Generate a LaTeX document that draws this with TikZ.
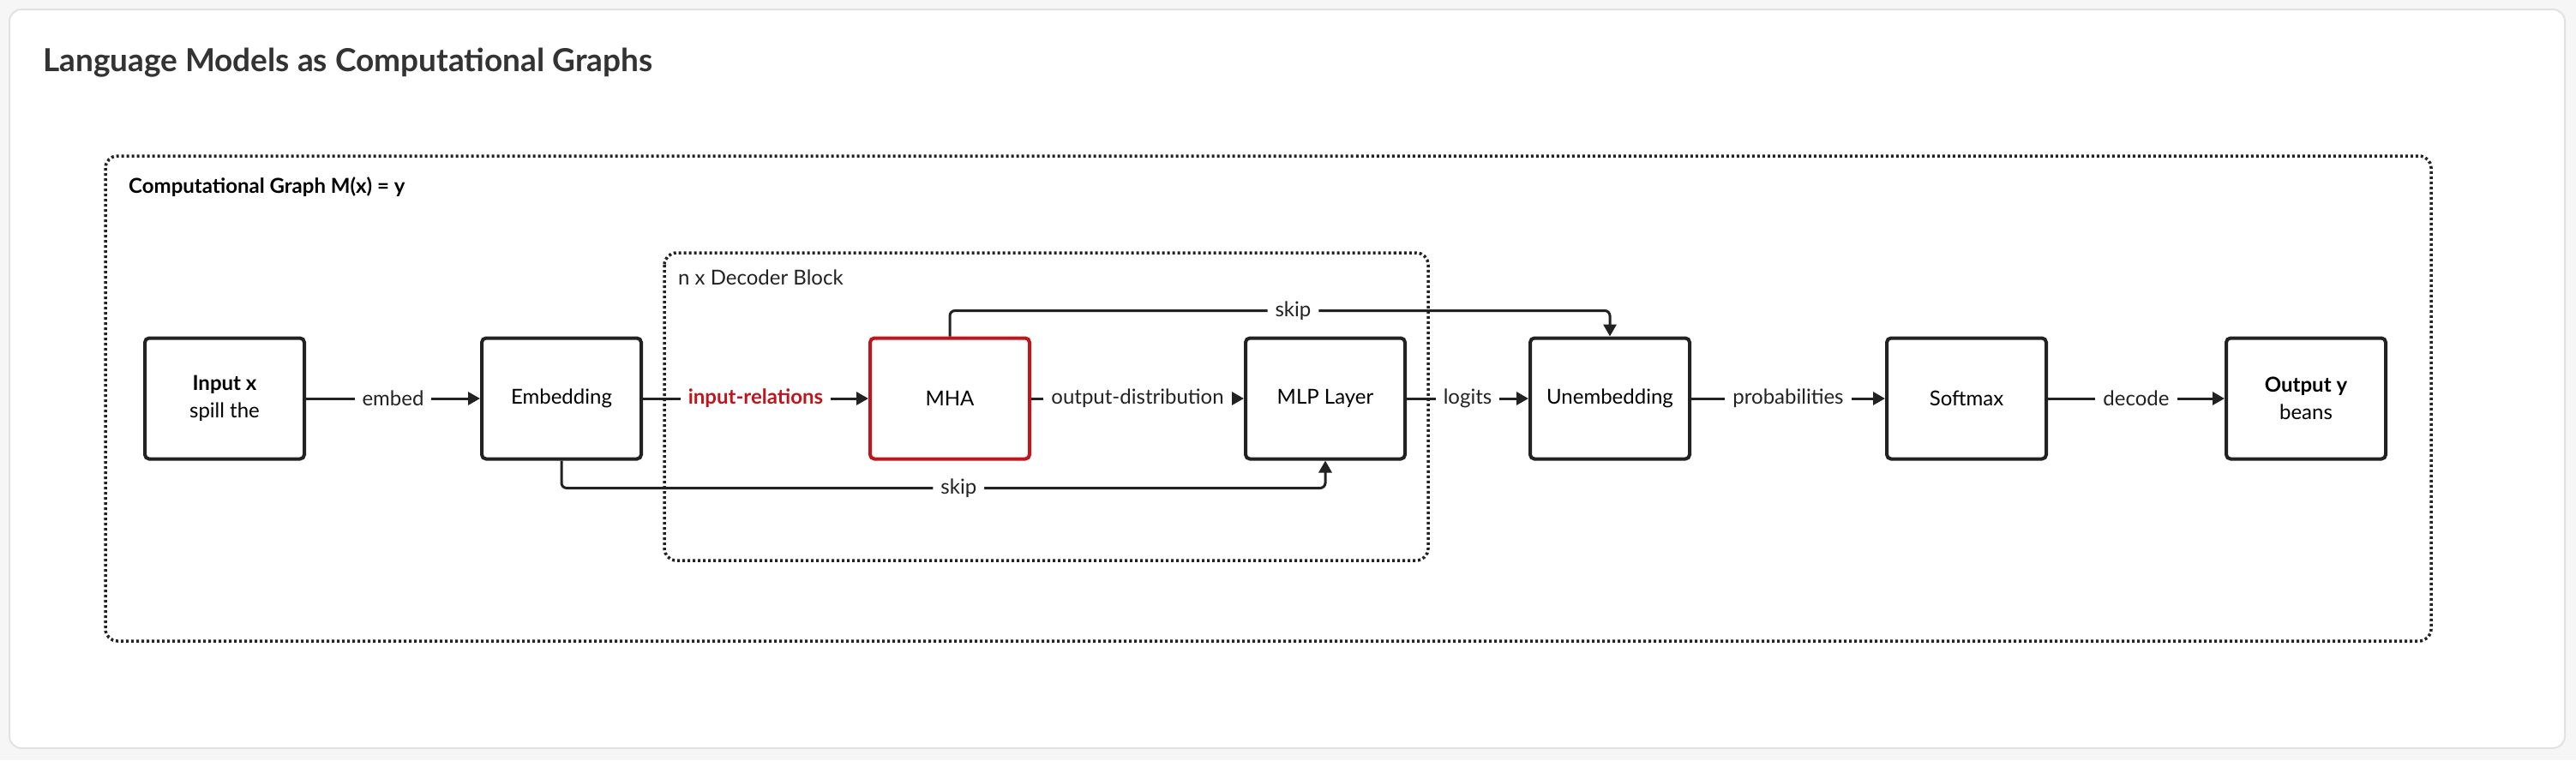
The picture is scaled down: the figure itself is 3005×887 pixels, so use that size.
\documentclass[tikz,border=0pt]{standalone}
\usepackage{fontspec}
\setmainfont{Lato}
\usetikzlibrary{arrows.meta}
\definecolor{ink}{HTML}{222222}
\definecolor{titlegray}{HTML}{333333}
\definecolor{hired}{HTML}{C0151B}
\definecolor{cardline}{HTML}{E2E2E2}
\definecolor{pagebg}{HTML}{F6F6F6}
\tikzset{
  blk/.style={draw=ink, line width=4pt, rounded corners=5pt, fill=white,
    minimum width=186pt, minimum height=141pt, inner sep=0pt, align=center,
    font=\fontsize{24}{32}\selectfont, text=black},
  hiblk/.style={blk, draw=hired},
  arr/.style={draw=ink, line width=3pt, -{Triangle[length=14pt,width=15pt]}},
  lbl/.style={fill=white, inner xsep=9pt, inner ysep=4pt, font=\fontsize{24}{28}\selectfont, text=ink},
  redlbl/.style={lbl, text=hired, font=\bfseries\fontsize{24}{28}\selectfont},
  grp/.style={draw=ink, line width=3.5pt, dash pattern=on 3pt off 3pt, rounded corners=14pt},
}
\begin{document}
\begin{tikzpicture}[x=1pt,y=-1pt]
\fill[pagebg] (0,0) rectangle (3005,887);
\useasboundingbox (0,0) rectangle (3005,887);
\draw[cardline, line width=2pt, fill=white, rounded corners=14pt] (11,11) rectangle (2992,873);
\node[anchor=west, text=titlegray, font=\bfseries\fontsize{37}{44}\selectfont, inner sep=0pt] (title) at (50,73) {Language Models as Computational Graphs};

% groups
\draw[grp] (123,182) rectangle (2836,748);
\node[anchor=west, inner sep=0pt, font=\bfseries\fontsize{24}{28}\selectfont] (gl1) at (150,218) {Computational Graph M(x) = y};
\draw[grp] (775,295) rectangle (1666,654);
\node[anchor=west, inner sep=0pt, font=\fontsize{24}{28}\selectfont, text=ink] (gl2) at (791,324) {n x Decoder Block};

% blocks
\node[blk] (inp) at (262,465) {\textbf{Input x}\\spill the};
\node[blk] (emb) at (655,465) {Embedding};
\node[hiblk] (mha) at (1108,465) {MHA};
\node[blk] (mlp) at (1546,465) {MLP Layer};
\node[blk] (unemb) at (1878,465) {Unembedding};
\node[blk] (soft) at (2294,465) {Softmax};
\node[blk] (out) at (2690,465) {\textbf{Output y}\\beans};

% main chain
\draw[arr] (inp) -- node[lbl]{embed} (emb);
\draw[arr] (emb) -- node[redlbl]{input-relations} (mha);
\draw[arr] (mha) -- node[lbl]{output-distribution} (mlp);
\draw[arr] (mlp) -- node[lbl]{logits} (unemb);
\draw[arr] (unemb) -- node[lbl]{probabilities} (soft);
\draw[arr] (soft) -- node[lbl]{decode} (out);

% skips
\draw[arr, rounded corners=6pt] (emb.south) -- ([yshift=-32pt]emb.south)
  -- node[lbl, pos=0.52]{skip} ([yshift=-32pt]emb.south -| mlp.south) -- (mlp.south);
\draw[arr, rounded corners=6pt] (mha.north) -- ([yshift=30pt]mha.north)
  -- node[lbl, pos=0.52]{skip} ([yshift=30pt]mha.north -| unemb.north) -- (unemb.north);
\end{tikzpicture}
\end{document}
